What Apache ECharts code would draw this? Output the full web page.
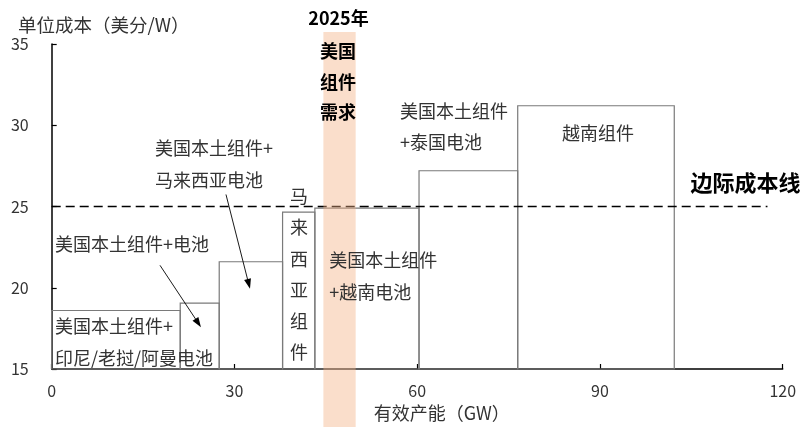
<!DOCTYPE html>
<html>
<head>
<meta charset="utf-8">
<script src="https://cdn.jsdelivr.net/npm/echarts@6/dist/echarts.min.js"></script>
<style>
html,body{margin:0;padding:0;background:#fff;}
#chart{width:811px;height:427px;}
</style>
</head>
<body>
<div id="chart"></div>
<script>
// ---- data ----
const segmentNames = ['美国本土组件+印尼/老挝/阿曼电池','美国本土组件+电池','美国本土组件+马来西亚电池','马来西亚组件','美国本土组件+越南电池','美国本土组件+泰国电池','越南组件'];
const capacityStart = [0, 21.1, 27.5, 37.9, 43.2, 60.3, 76.5];
const capacityEnd   = [21.1, 27.5, 37.9, 43.2, 60.3, 76.5, 102.2];
const unitCost      = [18.6, 19.05, 21.6, 24.65, 24.9, 27.2, 31.2];
const demandRange   = [44.6, 49.9];
const marginalCost  = 25;
const marginalLineEnd = 117.5;
const xTicks = [0, 30, 60, 90, 120];
const yTicks = [15, 20, 25, 30, 35];
// annotation arrows (data coords): [startX, startY, endX, endY]
const arrows = [
  [17.78, 21.38, 24.05, 17.83],
  [28.61, 25.74, 32.35, 20.23]
];

const FONT = '"Noto Sans CJK SC", "Noto Sans", sans-serif';
const TXT = '#333333';

const rectData = capacityStart.map((s, i) => [s, capacityEnd[i], unitCost[i], segmentNames[i]]);
const yMin = yTicks[0];

const chart = echarts.init(document.getElementById('chart'), null, {renderer: 'canvas'});

function txt(text, x, y, opt) {
  return {
    type: 'text', x: x, y: y, z: 100,
    style: Object.assign({
      text: text, fill: TXT, font: '18px ' + FONT,
      textAlign: 'left', textVerticalAlign: 'middle', lineHeight: 32
    }, opt || {})
  };
}

const option = {
  animation: false,
  backgroundColor: '#fff',
  grid: {left: 51.7, right: 28.3, top: 44, bottom: 57, containLabel: false},
  xAxis: {
    type: 'value', min: xTicks[0], max: xTicks[xTicks.length - 1], interval: 30,
    name: '有效产能（GW）', nameLocation: 'middle', nameGap: 35,
    nameTextStyle: {color: TXT, fontSize: 18, fontFamily: FONT, padding: [0, 0, 0, 49]},
    axisLine: {show: true, onZero: false, lineStyle: {color: '#000', width: 1.5}},
    axisTick: {show: true, inside: true, length: 5, lineStyle: {color: '#000', width: 1.2}},
    axisLabel: {color: TXT, fontSize: 16, fontFamily: FONT, margin: 14},
    splitLine: {show: false}
  },
  yAxis: {
    type: 'value', min: yMin, max: yTicks[yTicks.length - 1], interval: 5,
    name: '单位成本（美分/W）', nameLocation: 'end', nameGap: 10,
    nameTextStyle: {color: TXT, fontSize: 18.5, fontFamily: FONT, align: 'center', padding: [0, 0, 0, 104]},
    axisLine: {show: true, lineStyle: {color: '#000', width: 1.5}},
    axisTick: {show: true, inside: true, length: 5, lineStyle: {color: '#000', width: 1.2}},
    axisLabel: {color: TXT, fontSize: 16, fontFamily: FONT, margin: 23},
    splitLine: {show: false}
  },
  series: [
    {
      type: 'custom', name: 'segments', z: 3,
      encode: {x: [0, 1], y: 2},
      data: rectData,
      renderItem: function (params, api) {
        const p0 = api.coord([api.value(0), api.value(2)]);
        const p1 = api.coord([api.value(1), yMin]);
        return {
          type: 'rect',
          shape: {x: p0[0], y: p0[1], width: p1[0] - p0[0], height: p1[1] - p0[1]},
          style: {fill: 'none', stroke: '#7a7a7a', lineWidth: 1.2}
        };
      }
    },
    {
      type: 'line', name: 'marginal', z: 4,
      data: [[0, marginalCost], [marginalLineEnd, marginalCost]],
      symbol: 'none',
      lineStyle: {color: '#000', width: 1.5, type: [9, 5]},
      markLine: {
        silent: true, z: 4,
        symbol: ['none', 'triangle'], symbolSize: [7, 10],
        lineStyle: {color: '#000', width: 0.9, type: 'solid'},
        label: {show: false},
        data: arrows.map(a => [{coord: [a[0], a[1]]}, {coord: [a[2], a[3]]}])
      }
    },
    {
      type: 'custom', name: 'demand', z: 6, clip: false,
      encode: {x: [0, 1]},
      data: [[demandRange[0], demandRange[1]]],
      renderItem: function (params, api) {
        const a = api.coord([api.value(0), yMin]);
        const b = api.coord([api.value(1), yMin]);
        return {
          type: 'rect',
          shape: {x: a[0], y: 32, width: b[0] - a[0], height: 427 - 32},
          style: {fill: '#f4b183', opacity: 0.42}
        };
      }
    }
  ],
  graphic: [
    txt('美国本土组件+\n马来西亚电池', 155, 164.2),
    txt('美国本土组件+电池', 55, 244.3),
    txt('美国本土组件+\n印尼/老挝/阿曼电池', 55, 342.3, {lineHeight: 31.5}),
    txt('美国本土组件\n+越南电池', 329.3, 276.2),
    txt('美国本土组件\n+泰国电池', 400, 127, {lineHeight: 31}),
    txt('越南组件', 598, 132.7, {textAlign: 'center'}),
    txt('马\n来\n西\n亚\n组\n件', 299, 274.4, {textAlign: 'center', lineHeight: 31.3}),
    txt('2025年', 338.5, 18, {textAlign: 'center', font: 'bold 18px ' + FONT, fill: '#000'}),
    txt('美国\n组件\n需求', 338, 81.7, {textAlign: 'center', font: 'bold 18px ' + FONT, fill: '#000', lineHeight: 30.2}),
    txt('边际成本线', 745.5, 183, {textAlign: 'center', font: 'bold 22px ' + FONT, fill: '#000'})
  ]
};

chart.setOption(option);
</script>
</body>
</html>
